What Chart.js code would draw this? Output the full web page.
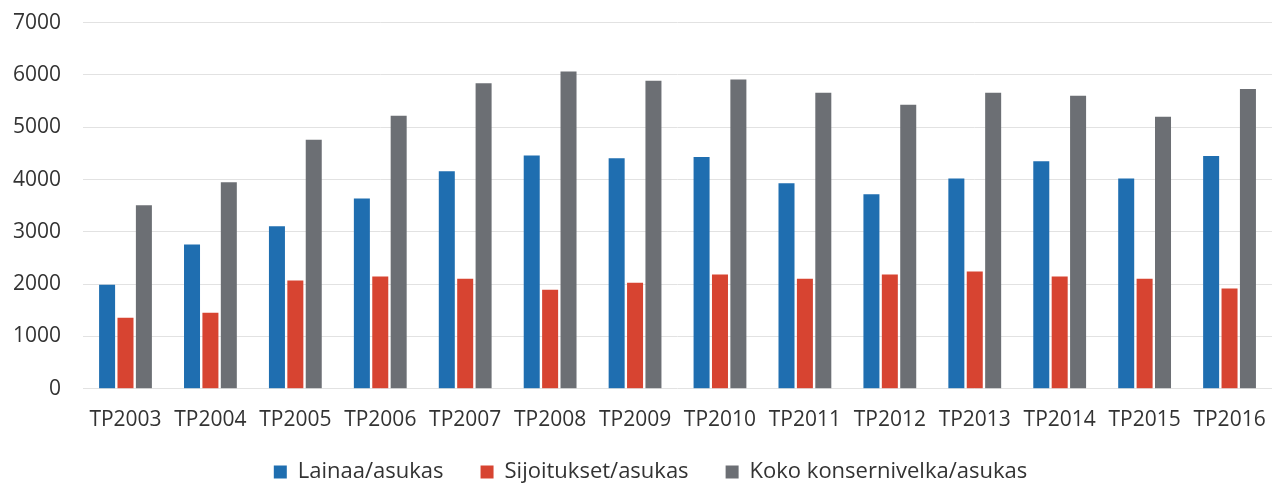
<!DOCTYPE html>
<html>
<head>
<meta charset="utf-8">
<script src="https://cdn.jsdelivr.net/npm/chart.js@4"></script>
<style>
  html, body { margin: 0; padding: 0; background: #fff; }
  #wrap { width: 1283px; height: 488px; position: relative; }
</style>
</head>
<body>
<div id="wrap"><canvas id="velkaChart"></canvas></div>
<script>
// Tiedot kuvasta luettuina
const vuodet = ['TP2003', 'TP2004', 'TP2005', 'TP2006', 'TP2007', 'TP2008', 'TP2009',
                'TP2010', 'TP2011', 'TP2012', 'TP2013', 'TP2014', 'TP2015', 'TP2016'];
const lainaa = [1990, 2760, 3105, 3640, 4160, 4460, 4405, 4430, 3930, 3720, 4020, 4350, 4020, 4450];
const sijoitukset = [1360, 1455, 2070, 2145, 2105, 1895, 2025, 2185, 2105, 2185, 2240, 2145, 2105, 1915];
const konsernivelka = [3510, 3950, 4760, 5220, 5840, 6065, 5890, 5910, 5660, 5430, 5660, 5600, 5200, 5730];

const LEGEND_PAD = 37;

// Selitteen vaakavälit isoiksi ilman että se vie pystytilaa
const legendePaikka = {
    id: 'legendePaikka',
    beforeLayout(chart) {
        const legend = chart.legend;
        if (legend && !legend._patched) {
            const fit = legend.fit;
            legend.fit = function () {
                fit.call(this);
                this.height = 52;
            };
            legend._patched = true;
        }
    },
    afterLayout(chart) {
        const legend = chart.legend;
        legend.top = 461 - LEGEND_PAD;
        legend.left += 13;
        legend.right += 13;
    }
};

const ctx = document.getElementById('velkaChart').getContext('2d');
const velkaChart = new Chart(ctx, {
    type: 'bar',
    data: {
        labels: vuodet,
        datasets: [{
            label: 'Lainaa/asukas',
            data: lainaa,
            backgroundColor: '#1f6eb0'
        }, {
            label: 'Sijoitukset/asukas',
            data: sijoitukset,
            backgroundColor: '#d74431'
        }, {
            label: 'Koko konsernivelka/asukas',
            data: konsernivelka,
            backgroundColor: '#6c6f74'
        }]
    },
    options: {
        responsive: true,
        maintainAspectRatio: false,
        animation: false,
        categoryPercentage: 0.65,
        barPercentage: 0.87,
        layout: {
            padding: { left: 3, right: 11, top: 0, bottom: 0 }
        },
        plugins: {
            legend: {
                position: 'bottom',
                labels: {
                    boxWidth: 13,
                    boxHeight: 13,
                    padding: LEGEND_PAD,
                    color: '#333',
                    font: { family: 'Open Sans', size: 22 }
                }
            },
            tooltip: { enabled: false }
        },
        scales: {
            x: {
                grid: { display: true, color: 'transparent', drawTicks: true, tickLength: 16, tickColor: 'transparent' },
                border: { display: false },
                ticks: {
                    color: '#333',
                    maxRotation: 0,
                    padding: 3,
                    font: { family: 'Open Sans', size: 21 }
                }
            },
            y: {
                min: 0,
                max: 7000,
                border: { display: false },
                grid: { color: '#e2e2e2', drawTicks: true, tickLength: 12, tickColor: 'transparent' },
                ticks: {
                    stepSize: 1000,
                    padding: 10,
                    color: '#333',
                    font: { family: 'Open Sans', size: 21 },
                    callback: function (value) { return String(value); }
                }
            }
        }
    },
    plugins: [legendePaikka]
});
</script>
</body>
</html>
